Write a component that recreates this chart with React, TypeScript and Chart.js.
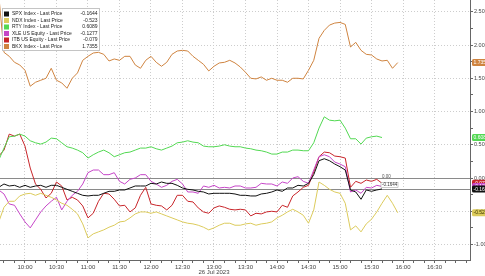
import React, { useEffect, useRef } from "react";
import { Chart, registerables } from "chart.js";

Chart.register(...registerables);

// ---------- DATA ----------
const times = [
  "09:35","09:40","09:45","09:50","09:55","10:00","10:05","10:10","10:15","10:20",
  "10:25","10:30","10:35","10:40","10:45","10:50","10:55","11:00","11:05","11:10",
  "11:15","11:20","11:25","11:30","11:35","11:40","11:45","11:50","11:55","12:00",
  "12:05","12:10","12:15","12:20","12:25","12:30","12:35","12:40","12:45","12:50",
  "12:55","13:00","13:05","13:10","13:15","13:20","13:25","13:30","13:35","13:40",
  "13:45","13:50","13:55","14:00","14:05","14:10","14:15","14:20","14:25","14:30",
  "14:35","14:40","14:45","14:50","14:55","15:00","15:05","15:10","15:15","15:20",
  "15:25","15:30","15:35","15:40","15:45","15:50","15:55",
];

const seriesNames = [
  "SPX Index - Last Price",
  "NDX Index - Last Price",
  "RTY Index - Last Price",
  "XLE US Equity - Last Price",
  "ITB US Equity - Last Price",
  "BKX Index - Last Price",
];
const lastValueLabels = ["-0.1644", "-0.523", "0.6089", "-0.1277", "-0.079", "1.7355"];
const seriesColors = ["#111111", "#dccb5c", "#52d852", "#c646c8", "#c8252a", "#cf8440"];
const boxTextColors = ["#ffffff", "#3a3400", "#ffffff", "#ffffff", "#ffffff", "#ffffff"];

const spx = [
  -0.14,-0.09,-0.12,-0.11,-0.14,-0.11,-0.14,-0.12,-0.11,-0.14,
  -0.11,-0.11,-0.14,-0.17,-0.20,-0.23,-0.26,-0.27,-0.26,-0.26,
  -0.23,-0.20,-0.20,-0.18,-0.18,-0.15,-0.12,-0.12,-0.12,-0.08,
  -0.09,-0.06,-0.08,-0.08,-0.11,-0.15,-0.17,-0.18,-0.20,-0.21,
  -0.24,-0.23,-0.23,-0.23,-0.23,-0.24,-0.26,-0.26,-0.27,-0.27,
  -0.24,-0.23,-0.21,-0.18,-0.20,-0.15,-0.15,-0.11,-0.12,-0.08,
  0.05,0.26,0.29,0.26,0.21,0.17,0.12,-0.18,-0.21,-0.32,
  -0.18,-0.20,-0.18,-0.1644,null,null,null,
];
const ndx = [
  -0.66,-0.44,-0.35,-0.35,-0.27,-0.24,-0.23,-0.26,-0.23,-0.26,
  -0.29,-0.33,-0.38,-0.41,-0.47,-0.54,-0.69,-0.90,-0.84,-0.81,
  -0.78,-0.74,-0.71,-0.66,-0.65,-0.60,-0.54,-0.51,-0.51,-0.53,
  -0.51,-0.54,-0.57,-0.60,-0.63,-0.66,-0.68,-0.69,-0.71,-0.74,
  -0.78,-0.75,-0.71,-0.68,-0.68,-0.71,-0.71,-0.69,-0.68,-0.71,
  -0.69,-0.68,-0.66,-0.60,-0.56,-0.51,-0.47,-0.51,-0.56,-0.68,
  -0.48,-0.06,-0.11,-0.17,-0.21,-0.23,-0.38,-0.78,-0.72,-0.81,
  -0.69,-0.62,-0.51,-0.38,-0.26,-0.38,-0.523,
];
const rty = [
  0.27,0.45,0.62,0.63,0.66,0.63,0.56,0.53,0.51,0.54,
  0.60,0.59,0.53,0.47,0.45,0.42,0.38,0.30,0.35,0.39,
  0.42,0.38,0.32,0.35,0.38,0.39,0.42,0.45,0.45,0.47,
  0.44,0.42,0.45,0.48,0.53,0.54,0.56,0.54,0.53,0.48,
  0.47,0.47,0.48,0.50,0.48,0.47,0.47,0.45,0.44,0.42,
  0.41,0.39,0.36,0.36,0.39,0.39,0.42,0.42,0.41,0.41,
  0.53,0.75,0.92,0.87,0.86,0.87,0.75,0.59,0.59,0.51,
  0.60,0.62,0.63,0.6089,null,null,null,
];
const xle = [
  -0.18,-0.24,-0.39,-0.41,-0.54,-0.66,-0.75,-0.63,-0.51,-0.42,
  -0.35,-0.29,-0.48,-0.35,-0.26,-0.20,-0.09,0.08,0.12,0.12,
  0.05,0.05,0.08,-0.05,-0.09,-0.02,0.00,0.05,0.05,-0.05,
  -0.09,-0.14,-0.11,-0.05,-0.02,-0.09,-0.21,-0.21,-0.23,-0.12,
  -0.14,-0.11,-0.15,-0.14,-0.15,-0.12,-0.12,-0.15,-0.15,-0.14,
  -0.08,-0.09,-0.09,-0.12,-0.06,-0.08,0.00,0.02,-0.05,-0.08,
  0.12,0.32,0.35,0.32,0.24,0.21,0.17,-0.21,-0.18,-0.23,
  -0.14,-0.15,-0.11,-0.1277,null,null,null,
];
const itb = [
  0.33,0.42,0.66,0.63,0.66,0.48,0.15,-0.09,-0.17,-0.30,
  -0.23,-0.06,-0.12,-0.33,-0.29,-0.33,-0.42,-0.60,-0.53,-0.35,
  -0.23,-0.24,-0.32,-0.42,-0.41,-0.51,-0.45,-0.26,-0.14,-0.39,
  -0.41,-0.42,-0.48,-0.41,-0.26,-0.26,-0.35,-0.36,-0.45,-0.51,
  -0.53,-0.45,-0.42,-0.44,-0.47,-0.48,-0.47,-0.48,-0.57,-0.53,
  -0.54,-0.51,-0.50,-0.51,-0.41,-0.44,-0.27,-0.21,-0.14,-0.11,
  0.09,0.32,0.39,0.38,0.33,0.32,0.30,-0.14,-0.05,-0.08,
  -0.03,-0.05,-0.02,-0.079,null,null,null,
];
const bkx = [
  2.75,1.89,1.83,1.74,1.70,1.62,1.38,1.44,1.47,1.50,
  1.65,1.47,1.43,1.35,1.50,1.58,1.77,1.83,1.88,1.89,
  1.86,1.76,1.79,1.77,1.83,1.83,1.70,1.65,1.77,1.83,
  1.74,1.68,1.74,1.86,1.91,1.92,1.91,1.83,1.77,1.71,
  1.61,1.68,1.73,1.74,1.77,1.73,1.67,1.59,1.50,1.49,
  1.52,1.47,1.50,1.47,1.47,1.44,1.50,1.50,1.49,1.62,
  1.77,2.10,2.22,2.30,2.33,2.34,2.31,1.97,2.04,1.92,
  1.86,1.85,1.79,1.76,1.77,1.65,1.7355,
];

const xTickLabels = ["10:00","10:30","11:00","11:30","12:00","12:30","13:00","13:30","14:00","14:30","15:00","15:30","16:00","16:30"];
const yTickValues = [-1, -0.5, 0, 0.5, 1, 1.5, 2, 2.5];
const xRange = ["09:36.2", "17:03.8"];
const yRange = [-1.233, 2.677];
const dateLabel = "26 Jul 2023";
const dateUnderTick = "13:00";

// ---------- HELPERS ----------
const FONT = "'Liberation Sans', Arial, sans-serif";
const toMin = (s: string) => {
  const [h, m] = s.split(":");
  return Number(h) * 60 + Number(m);
};
const fmt = (v: number) => {
  const h = Math.floor(v / 60);
  const m = Math.round(v - h * 60);
  return `${String(h).padStart(2, "0")}:${String(m).padStart(2, "0")}`;
};

export default function App() {
  const ref = useRef<HTMLCanvasElement>(null);

  useEffect(() => {
    document.body.style.margin = "0";
    const canvas = ref.current!;
    const seriesValues = [spx, ndx, rty, xle, itb, bkx];
    const xs = times.map(toMin);
    const majorX = xTickLabels.map(toMin);
    const minorX: number[] = [];
    for (let t = majorX[0] - 20; t <= majorX[majorX.length - 1] + 30; t += 10) minorX.push(t);
    const yAll: number[] = [];
    for (let i = 0; i <= (yTickValues[yTickValues.length - 1] - yTickValues[0]) * 4; i++) {
      yAll.push(yTickValues[0] + i * 0.25);
    }
    const isMajorY = (v: number) => yTickValues.some((t) => Math.abs(t - v) < 1e-9);
    const isMajorX = (v: number) => majorX.includes(v);
    const lastVal = (arr: (number | null)[]) => {
      for (let i = arr.length - 1; i >= 0; i--) if (arr[i] !== null) return arr[i] as number;
      return 0;
    };

    const overlay = {
      id: "overlay",
      beforeDatasetsDraw(chart: any) {
        const { ctx, chartArea } = chart;
        const ys = chart.scales.y;
        const y = Math.round(ys.getPixelForValue(lastVal(spx))) + 0.5;
        ctx.save();
        ctx.strokeStyle = "#8a8a8a";
        ctx.lineWidth = 1;
        ctx.beginPath();
        ctx.moveTo(chartArea.left, y);
        ctx.lineTo(chartArea.right, y);
        ctx.stroke();
        ctx.restore();
      },
      afterDraw(chart: any) {
        const { ctx, chartArea } = chart;
        const ys = chart.scales.y;
        const xsc = chart.scales.x;
        ctx.save();
        // date label
        ctx.fillStyle = "#444";
        ctx.font = `6px ${FONT}`;
        ctx.textAlign = "center";
        ctx.textBaseline = "middle";
        ctx.fillText(dateLabel, xsc.getPixelForValue(toMin(dateUnderTick)), 272);

        // small in-plot labels near line ends
        ctx.font = `4.5px ${FONT}`;
        ctx.textAlign = "left";
        ctx.fillStyle = "#555";
        ctx.fillText("0.00", 382, ys.getPixelForValue(0) - 1.5);
        const spxY = ys.getPixelForValue(lastVal(spx));
        ctx.fillStyle = "#ffffff";
        ctx.fillRect(381, spxY - 6.5, 17, 5);
        ctx.strokeStyle = "#999";
        ctx.lineWidth = 0.5;
        ctx.strokeRect(381, spxY - 6.5, 17, 5);
        ctx.fillStyle = "#333";
        ctx.fillText(lastValueLabels[0], 382, spxY - 3.8);

        // right-side value boxes
        const order = [5, 2, 1, 4, 3, 0];
        order.forEach((i) => {
          const y = ys.getPixelForValue(lastVal(seriesValues[i]));
          ctx.fillStyle = seriesColors[i];
          ctx.beginPath();
          (ctx as any).roundRect(chartArea.right + 2, y - 3.5, 22, 7, 1.5);
          ctx.fill();
          ctx.fillStyle = boxTextColors[i];
          ctx.font = `5px ${FONT}`;
          ctx.textAlign = "left";
          ctx.textBaseline = "middle";
          ctx.fillText(lastValueLabels[i], chartArea.right + 3.5, y + 0.3);
        });

        // legend
        const lx = 2.5, ly = 8.5, lw = 97, lh = 42;
        ctx.fillStyle = "#ffffff";
        ctx.fillRect(lx, ly, lw, lh);
        ctx.strokeStyle = "#c4c4c4";
        ctx.lineWidth = 1;
        ctx.strokeRect(lx, ly, lw, lh);
        ctx.font = `5px ${FONT}`;
        ctx.textBaseline = "middle";
        seriesNames.forEach((name, i) => {
          const cy = 14 + i * 6.5;
          ctx.fillStyle = seriesColors[i];
          ctx.fillRect(4, cy - 2.5, 5, 5);
          ctx.fillStyle = "#222";
          ctx.textAlign = "left";
          ctx.fillText(name, 12, cy);
          ctx.textAlign = "right";
          ctx.fillText(lastValueLabels[i], 97.5, cy);
        });
        ctx.restore();
      },
    };

    const chart = new Chart(canvas, {
      type: "line",
      data: {
        datasets: seriesNames.map((name, i) => ({
          label: name,
          data: xs.map((x, j) => ({ x, y: seriesValues[i][j] })),
          borderColor: seriesColors[i],
          backgroundColor: seriesColors[i],
          borderWidth: 1,
          pointRadius: 0,
          tension: 0,
          fill: false,
          spanGaps: false,
        })),
      },
      options: {
        animation: false,
        responsive: false,
        maintainAspectRatio: false,
        layout: { padding: 0 },
        plugins: { legend: { display: false }, tooltip: { enabled: false } },
        scales: {
          x: {
            type: "linear",
            min: toMin(xRange[0]),
            max: toMin(xRange[1]),
            afterBuildTicks: (s: any) => {
              s.ticks = minorX.map((v) => ({ value: v }));
            },
            afterFit: (s: any) => {
              s.height = 16;
              s.paddingLeft = 0;
              s.paddingRight = 0;
              s.paddingTop = 0;
              s.paddingBottom = 0;
            },
            ticks: {
              autoSkip: false,
              maxRotation: 0,
              minRotation: 0,
              padding: 1,
              color: "#444",
              font: { size: 6, family: FONT },
              callback: (v: any) => (isMajorX(Number(v)) ? fmt(Number(v)) : ""),
            },
            grid: {
              color: (c: any) => (c.tick && isMajorX(c.tick.value) ? "#cdcdcd" : "rgba(0,0,0,0)"),
              lineWidth: 1,
              tickColor: "#666",
              tickLength: 3,
              drawTicks: true,
            },
            border: { display: true, color: "#666", width: 1, dash: [1, 2] },
          },
          y: {
            type: "linear",
            position: "right",
            min: yRange[0],
            max: yRange[1],
            afterBuildTicks: (s: any) => {
              s.ticks = yAll.map((v) => ({ value: v }));
            },
            afterFit: (s: any) => {
              s.width = 15;
              s.paddingLeft = 0;
              s.paddingRight = 0;
              s.paddingTop = 0;
              s.paddingBottom = 0;
            },
            ticks: {
              autoSkip: false,
              padding: 1,
              color: "#444",
              font: { size: 5.5, family: FONT },
              callback: (v: any) => (isMajorY(Number(v)) ? Number(v).toFixed(2) : ""),
            },
            grid: {
              color: (c: any) => {
                if (!c.tick) return "rgba(0,0,0,0)";
                if (Math.abs(c.tick.value) < 1e-9) return "#8a8a8a";
                return isMajorY(c.tick.value) ? "#cdcdcd" : "rgba(0,0,0,0)";
              },
              lineWidth: 1,
              tickColor: "#666",
              tickLength: 3,
              drawTicks: true,
            },
            border: {
              display: true,
              color: "#666",
              width: 1,
              dash: (c: any) => (c.tick && Math.abs(c.tick.value) < 1e-9 ? [] : [1, 2]),
            },
          },
        },
      } as any,
      plugins: [overlay],
    });
    return () => chart.destroy();
  }, []);

  return (
    <div style={{ width: 485, height: 276, position: "relative", background: "#fff" }}>
      <canvas ref={ref} width={485} height={276} style={{ display: "block" }} />
    </div>
  );
}
